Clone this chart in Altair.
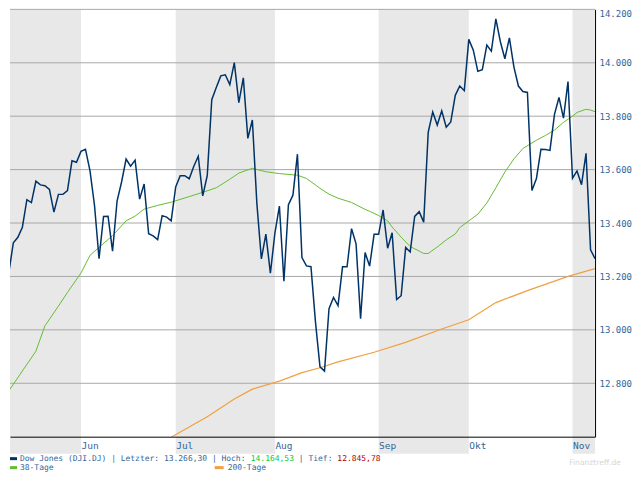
import altair as alt
import pandas as pd

# ---------------- data ----------------
dates = pd.bdate_range("2007-05-09", "2007-11-08")  # weekday axis
close = [
    # May
    13362.87, 13215.13, 13326.22, 13346.78, 13383.84, 13487.53, 13476.72, 13556.53,
    13542.88, 13539.95, 13525.65, 13441.13, 13507.28, 13507.28, 13521.34, 13633.08, 13627.64,
    # Jun
    13668.11, 13676.32, 13595.46, 13465.67, 13266.73, 13424.39, 13424.96, 13295.01,
    13482.35, 13553.72, 13639.48, 13612.98, 13635.42, 13489.42, 13545.84, 13360.26,
    13352.05, 13337.66, 13427.73, 13422.28, 13408.62,
    # Jul
    13535.43, 13577.30, 13577.30, 13565.84, 13611.68, 13649.97, 13501.70, 13577.87,
    13861.73, 13907.25, 13950.98, 13955.00, 13918.22, 14000.41, 13851.08, 13943.42,
    13716.95, 13785.79, 13473.57, 13265.47, 13358.31, 13211.99,
    # Aug
    13362.37, 13463.33, 13181.91, 13468.78, 13504.30, 13657.86, 13270.68, 13239.54,
    13236.53, 13028.92, 12861.47, 12845.78, 13079.08, 13121.35, 13090.86, 13236.13,
    13235.88, 13378.87, 13322.13, 13041.85, 13289.29, 13238.73, 13357.74,
    # Sep
    13357.74, 13448.86, 13305.47, 13363.35, 13113.38, 13127.85, 13308.39, 13291.65,
    13424.88, 13442.52, 13403.42, 13739.39, 13815.56, 13766.70, 13820.19, 13759.06,
    13778.65, 13878.15, 13912.94, 13895.63,
    # Oct
    14087.55, 14047.31, 13968.05, 13974.31, 14066.01, 14043.73, 14164.53, 14078.69,
    14015.12, 14093.08, 13984.80, 13912.94, 13892.54, 13888.96, 13522.02, 13566.97,
    13676.23, 13675.25, 13671.92, 13806.70, 13870.26, 13792.47, 13930.01,
    # Nov
    13567.87, 13595.10, 13543.40, 13660.94, 13300.02, 13266.30,
]

ma38_idx = [0, 4, 7, 9, 12, 14, 17, 19, 21, 24, 27, 29, 31, 34, 37, 41, 44, 47, 50, 52,
            55, 58, 61, 65, 67, 70, 72, 74, 77, 80, 81, 83, 85, 86, 88, 90, 92, 93, 94, 96,
            98, 100, 101, 103, 105, 107, 109, 111, 113, 115, 118, 120, 122, 124, 126, 127,
            129, 130, 131]
ma38_val = [12747, 12846, 12920, 13015, 13089, 13140, 13213, 13279, 13309, 13353, 13408,
            13426, 13452, 13466, 13478, 13499, 13515, 13532, 13564, 13587, 13605, 13592,
            13585, 13579, 13567, 13530, 13508, 13493, 13477, 13451, 13444, 13428, 13408,
            13385, 13347, 13312, 13295, 13286, 13286, 13310, 13337, 13359, 13383, 13408,
            13433, 13475, 13532, 13591, 13640, 13679, 13710, 13728, 13748, 13777, 13800,
            13814, 13826, 13823, 13817]

ma200_idx = [37, 45, 51, 55, 61, 66, 70, 74, 82, 89, 97, 103, 109, 116, 125, 131]
ma200_val = [12598, 12675, 12741, 12778, 12808, 12840, 12858, 12880, 12916, 12953, 13003,
             13038, 13102, 13147, 13200, 13229]

y_ticks = [12800, 13000, 13200, 13400, 13600, 13800, 14000, 14200]
month_labels = {5: "Mai", 6: "Jun", 7: "Jul", 8: "Aug", 9: "Sep", 10: "Okt", 11: "Nov"}

legend_name = "Dow Jones (DJI.DJ)"
last_txt, high_txt, low_txt = "13.266,30", "14.164,53", "12.845,78"
ma_names = ["38-Tage", "200-Tage"]
brand = "Finanztreff.de"

# ---------------- styling ----------------
W, H = 586, 428
n = len(close)
X0 = 1.256
FONT = "DejaVu Sans Mono"
TXT = "#336699"
C_DJ, C_38, C_200 = "#003366", "#66bb33", "#f0a040"

xs = alt.Scale(domain=[X0, n - 1], nice=False, zero=False)
ys = alt.Scale(domain=[12600, 14200], nice=False, zero=False)

months = list(dates.month)
starts = [i for i in range(n) if i == 0 or months[i] != months[i - 1]]
ends = starts[1:] + [n - 1]
band_rows = [{"i": max(s, X0), "i2": e} for k, (s, e) in enumerate(zip(starts, ends)) if k % 2 == 0]
bands_df = pd.DataFrame(band_rows)

lab_idx = starts[1:]
lab_txt = [month_labels[months[i]] for i in lab_idx]
x_expr = " : ".join(f"datum.value == {i} ? '{t}'" for i, t in zip(lab_idx, lab_txt)) + " : ''"

xaxis = alt.Axis(values=lab_idx, labelExpr=x_expr, title="", ticks=False, grid=False,
                 domainColor="#000000", domainWidth=1, labelAlign="left", labelBaseline="top",
                 labelPadding=4, labelColor=TXT, labelFont=FONT, labelFontSize=9.5,
                 labelFlush=False, labelOverlap=False, zindex=1)
yaxis = alt.Axis(orient="right", values=y_ticks,
                 labelExpr="replace(format(datum.value, ',.0f'), ',', '.')",
                 title="", ticks=False, grid=False, domainColor="#000000", domainWidth=1,
                 labelPadding=4, labelColor=TXT, labelFont=FONT, labelFontSize=9,
                 labelFlush=True, labelOverlap=False, zindex=1)

bands = alt.Chart(bands_df).mark_rect(color="#e8e8e8").encode(
    x=alt.X("i:Q", scale=xs, axis=xaxis), x2="i2:Q",
    y=alt.value(0), y2=alt.value(H + 17))

grid = alt.Chart(pd.DataFrame({"v": y_ticks})).mark_rule(color="#a8a8a8", strokeWidth=1).encode(
    y=alt.Y("v:Q", scale=ys, axis=yaxis))

def series(idx, vals, color, sw):
    d = pd.DataFrame({"i": idx, "v": vals})
    return alt.Chart(d).mark_line(color=color, strokeWidth=sw, clip=True).encode(
        x=alt.X("i:Q", scale=xs, axis=xaxis), y=alt.Y("v:Q", scale=ys, axis=yaxis))

l200 = series(ma200_idx, ma200_val, C_200, 1.2)
l38 = series(ma38_idx, ma38_val, C_38, 1.0)
ldj = series(list(range(n)), close, C_DJ, 1.5)

# ---------------- legend (text below the axis) ----------------
FS = 8.0
CW = FS * 0.602
LX = 10
R1, R2 = 450, 459
one = pd.DataFrame({"t": [0]})

def txt(x, y, s, color, align="left", size=FS, font=FONT):
    return alt.Chart(pd.DataFrame({"t": [s]})).mark_text(
        align=align, baseline="middle", font=font, fontSize=size, color=color).encode(
        x=alt.value(x), y=alt.value(y), text="t:N")

def swatch(x1, x2, y, color):
    return alt.Chart(one).mark_rule(color=color, strokeWidth=3).encode(
        x=alt.value(x1), x2=alt.value(x2), y=alt.value(y))

seg1 = f"{legend_name} | Letzter: {last_txt} | Hoch:"
legend = [
    swatch(0, 7, R1, C_DJ),
    txt(LX, R1, seg1, TXT),
    txt(LX + (len(seg1) + 1) * CW, R1, high_txt, "#00cc33"),
    txt(LX + (len(seg1) + 2 + len(high_txt)) * CW, R1, "| Tief:", TXT),
    txt(LX + (len(seg1) + 10 + len(high_txt)) * CW, R1, low_txt, "#aa0000"),
    swatch(0, 7, R2, C_38),
    txt(LX, R2, ma_names[0], TXT),
    swatch(205, 214, R2, C_200),
    txt(218, R2, ma_names[1], TXT),
    txt(612, 454.5, brand, "#d6d6d6", align="right", size=7.6, font="DejaVu Sans"),
]

chart = alt.layer(bands, grid, l200, l38, ldj, *legend).properties(
    width=W, height=H, padding=0
).configure_view(strokeWidth=0)

chart.save("out.html", embed_options={"renderer": "svg", "actions": False})
